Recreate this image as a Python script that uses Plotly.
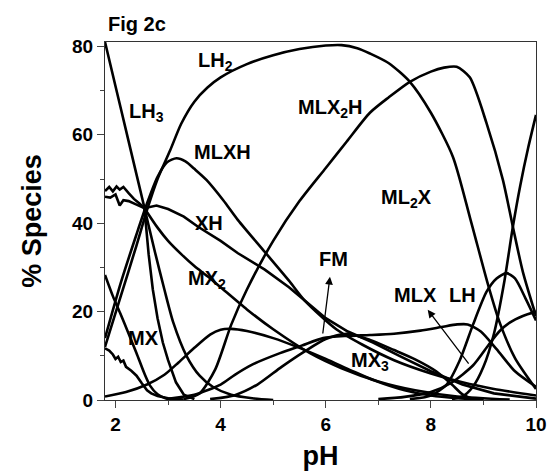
import plotly.graph_objects as go

# ---- data (pH, % species) ----
LH3_ph = [1.8, 2.0, 2.2, 2.4, 2.55, 2.75, 2.93, 3.1, 3.35, 3.6, 3.85, 4.2, 4.6, 5.0]
LH3_pct = [81, 71, 61, 51, 43.5, 33.5, 25, 17.5, 10, 5.5, 3, 1.2, 0.4, 0]

LH2_ph = [1.8, 2.1, 2.4, 2.6, 2.8, 3.04, 3.25, 3.5, 3.75, 4.0, 4.5, 5.0, 5.5, 6.0, 6.3, 6.6, 6.84,
          7.2, 7.6, 8.0, 8.42, 8.75, 9.09, 9.31, 9.6, 10.0]
LH2_pct = [12, 23.5, 35, 43, 50, 56.5, 62.5, 67.5, 70.7, 73, 76, 78, 79.4, 80.2, 80.3, 79.6, 78.4,
           76.2, 72, 65, 55, 41, 26, 17.5, 9.5, 2.5]

MLXH_ph = [1.8, 2.1, 2.4, 2.6, 2.8, 2.98, 3.16, 3.33, 3.5, 3.73, 4.05, 4.33, 4.84, 5.3, 5.6, 6.2,
           6.7, 7.3, 8.0, 8.6, 9.2, 10.0]
MLXH_pct = [14, 26.5, 37.5, 44.5, 50.5, 53.8, 54.7, 54.0, 52.3, 49.8, 45.2, 40.7, 33.5, 27, 22.5, 16,
            12.5, 9, 6, 4, 2.5, 1]

XH_ph = [1.8, 1.9, 2.0, 2.08, 2.15, 2.25, 2.4, 2.55, 2.78, 3.0, 3.3, 3.57, 4.0, 4.33, 4.84, 5.3,
         5.6, 6.0, 6.42, 6.9, 7.4, 8.0, 8.6, 9.2, 10.0]
XH_pct = [46, 45.8, 46.5, 44, 45.2, 45, 44.2, 43.4, 44, 43.2, 41.5, 39.2, 36, 33.2, 29.5, 25.5,
          22.5, 18.5, 15.5, 13, 10, 6.5, 3.5, 1.5, 0.3]

MX2_ph = [2.55, 2.8, 3.0, 3.25, 3.5, 3.75, 4.0, 4.5, 5.0, 5.7, 6.3, 7.0, 7.7, 8.5, 9.5]
MX2_pct = [43.4, 39, 36, 33, 30.3, 28, 25.5, 20.5, 16, 10.6, 7.2, 4.2, 2.2, 0.8, 0.1]

W1_ph = [1.8, 1.88, 1.95, 2.02, 2.08, 2.15, 2.25, 2.35, 2.45, 2.55, 2.63, 2.71, 2.8, 2.9, 3.0,
         3.15, 3.3, 3.5]
W1_pct = [47.3, 48.2, 47.2, 48.3, 47.6, 48.2, 46.8, 45.5, 44.5, 43.4, 33, 25, 18.5, 13, 9, 4,
          1.2, 0.2]

MX_ph = [1.8, 1.95, 2.09, 2.25, 2.4, 2.55, 2.66, 2.8, 2.95, 3.1]
MX_pct = [28.3, 23.5, 19.6, 15, 10.6, 6, 3.2, 1.3, 0.4, 0]

W3_ph = [1.8, 1.88, 1.95, 2.0, 2.05, 2.1, 2.15, 2.2, 2.3, 2.4, 2.5, 2.6, 2.68, 2.8, 3.0, 3.3]
W3_pct = [11.7, 11.2, 10.3, 9.3, 9.8, 8.6, 8.9, 7.5, 6.6, 5.5, 3.8, 2.2, 1.5, 0.9, 0.4, 0.1]

B1_ph = [1.8, 2.2, 2.6, 2.93, 3.2, 3.5, 3.8, 4.0, 4.2, 4.5, 5.0, 5.5, 6.0, 6.5, 6.93, 7.5, 8.0,
         8.5, 9.0]
B1_pct = [0.8, 1.8, 3.5, 5.7, 8.5, 11.8, 14.8, 15.9, 16.1, 15.6, 14.0, 11.8, 9.3, 6.6, 4.4, 2.2,
          1, 0.4, 0.1]

FM_ph = [3.0, 3.5, 4.0, 4.27, 4.6, 5.13, 5.54, 5.95, 6.4, 6.84, 7.3, 7.8, 8.2, 8.5, 8.7, 8.95,
         9.25, 9.6, 10.0]
FM_pct = [0.3, 1.2, 3.5, 5.7, 8, 10.6, 12.3, 14, 14.5, 14.7, 15, 15.7, 16.5, 17.1, 17.1, 15.5,
          11.5, 6.5, 3]

MX3_ph = [3.8, 4.27, 4.7, 5.16, 5.6, 6.0, 6.4, 6.84, 7.3, 7.7, 8.1, 8.4, 8.61, 8.8, 9.0]
MX3_pct = [0.2, 1.1, 3.5, 7.5, 11, 13.8, 15, 13.6, 11.3, 9.2, 6.5, 3.5, 1.2, 0.3, 0]

MLX2H_ph = [3.3, 3.6, 3.9, 4.2, 4.5, 5.0, 5.5, 6.0, 6.4, 6.84, 7.2, 7.6, 8.0, 8.25, 8.49, 8.74,
            9.06, 9.37, 9.56, 9.75, 10.0]
MLX2H_pct = [0.2, 1.5, 7, 17, 25, 36, 45, 52.5, 58.5, 65, 68.5, 72, 74.3, 75.2, 75.4, 73, 62.6,
             49.8, 39.2, 29, 19]

MLX_ph = [7.0, 7.5, 8.0, 8.4, 8.8, 9.1, 9.3, 9.5, 9.75, 10.0]
MLX_pct = [0.2, 0.7, 1.8, 4, 7.8, 12.5, 15.5, 17.5, 19, 20]

LH_ph = [7.6, 8.0, 8.3, 8.55, 8.8, 9.06, 9.25, 9.44, 9.6, 9.8, 10.0]
LH_pct = [0.2, 1, 3.5, 9, 17, 24.5, 27.5, 28.7, 27.5, 23, 18]

ML2X_ph = [8.4, 8.6, 8.8, 9.0, 9.2, 9.4, 9.56, 9.7, 9.85, 10.0]
ML2X_pct = [0.2, 0.8, 3, 7.5, 15, 27, 39.2, 48.5, 57, 64.5]

series = [
    ("LH3", LH3_ph, LH3_pct, "spline"),
    ("LH2", LH2_ph, LH2_pct, "spline"),
    ("MLXH", MLXH_ph, MLXH_pct, "spline"),
    ("XH", XH_ph, XH_pct, "linear"),
    ("MX2", MX2_ph, MX2_pct, "spline"),
    ("W1", W1_ph, W1_pct, "linear"),
    ("MX", MX_ph, MX_pct, "spline"),
    ("W3", W3_ph, W3_pct, "linear"),
    ("B1", B1_ph, B1_pct, "spline"),
    ("FM", FM_ph, FM_pct, "spline"),
    ("MX3", MX3_ph, MX3_pct, "spline"),
    ("MLX2H", MLX2H_ph, MLX2H_pct, "spline"),
    ("MLX", MLX_ph, MLX_pct, "spline"),
    ("LH", LH_ph, LH_pct, "spline"),
    ("ML2X", ML2X_ph, ML2X_pct, "spline"),
]

labels = [
    ("LH<sub>3</sub>", 2.58, 65),
    ("LH<sub>2</sub>", 3.9, 76.5),
    ("MLXH", 4.04, 56),
    ("MLX<sub>2</sub>H", 6.08, 66),
    ("ML<sub>2</sub>X", 7.54, 45.5),
    ("XH", 3.78, 40),
    ("MX<sub>2</sub>", 3.74, 27.2),
    ("MX", 2.54, 14),
    ("FM", 6.15, 32),
    ("MX<sub>3</sub>", 6.84, 8.6),
    ("MLX", 7.71, 23.8),
    ("LH", 8.61, 23.8),
]

FONT = "Liberation Sans"

fig = go.Figure()
for name, xs, ys, shape in series:
    fig.add_trace(go.Scatter(
        x=xs, y=ys, mode="lines", name=name,
        line=dict(color="black", width=2.6, shape=shape, smoothing=0.7),
        showlegend=False, hoverinfo="skip"))

for txt, x, y in labels:
    fig.add_annotation(x=x, y=y, text=txt, showarrow=False, xref="x", yref="y",
                       font=dict(family=FONT, size=20, color="black", weight="bold"))

# arrows (FM and MLX)
fig.add_annotation(x=6.08, y=27.9, ax=5.94, ay=14.7, axref="x", ayref="y", xref="x", yref="y",
                   text="", showarrow=True, arrowhead=2, arrowsize=1.2, arrowwidth=1.3,
                   arrowcolor="black")
fig.add_annotation(x=7.94, y=20.4, ax=8.74, ay=7.9, axref="x", ayref="y", xref="x", yref="y",
                   text="", showarrow=True, arrowhead=2, arrowsize=1.2, arrowwidth=1.3,
                   arrowcolor="black")

fig.add_annotation(x=0.003, y=1.05, xref="paper", yref="paper", text="Fig 2c", showarrow=False,
                   xanchor="left", yanchor="middle",
                   font=dict(family=FONT, size=20, color="black", weight="bold"))

fig.update_layout(
    width=548, height=472,
    margin=dict(l=105, r=12, t=42, b=72),
    paper_bgcolor="white", plot_bgcolor="white",
    font=dict(family=FONT, color="black"),
)
fig.update_xaxes(
    automargin=False,
    range=[1.8, 10.0], tickvals=[2, 4, 6, 8, 10], ticks="outside", ticklen=7, tickwidth=1,
    minor=dict(tickvals=[3, 5, 7, 9], ticks="outside", ticklen=4, tickwidth=1),
    showline=True, linecolor="#333", linewidth=1.2, mirror=True, showgrid=False, zeroline=False,
    tickfont=dict(family=FONT, size=19, weight="bold"),
    title=dict(text="pH", font=dict(family=FONT, size=27, weight="bold"), standoff=12),
)
fig.update_yaxes(
    automargin=False,
    range=[0, 81], tickvals=[0, 20, 40, 60, 80], ticks="outside", ticklen=7, tickwidth=1,
    minor=dict(tickvals=[10, 30, 50, 70], ticks="outside", ticklen=4, tickwidth=1),
    showline=True, linecolor="#333", linewidth=1.2, mirror=True, showgrid=False, zeroline=False,
    tickfont=dict(family=FONT, size=19, weight="bold"),
    title=dict(text="% Species", font=dict(family=FONT, size=27, weight="bold"), standoff=22),
)

fig.write_html("out.html", config={"displayModeBar": False},
               post_script="document.body.style.margin='0';")
